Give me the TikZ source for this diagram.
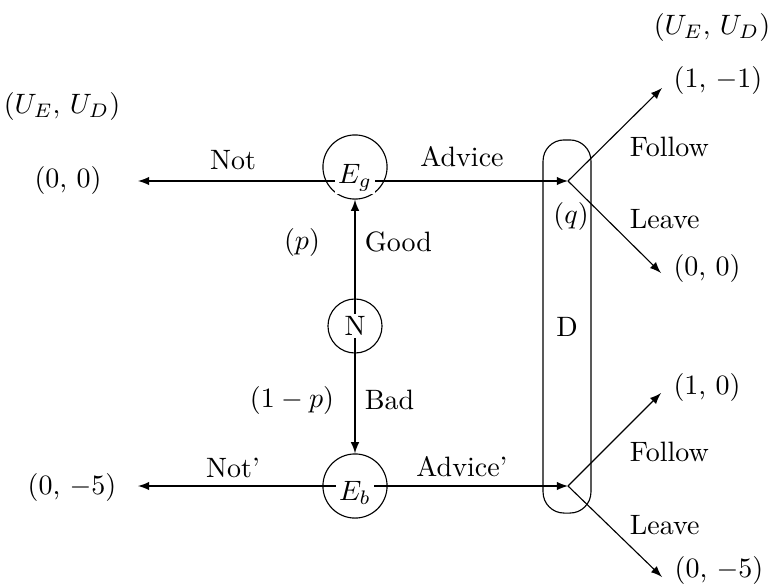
\documentclass[tikz,border=0pt]{standalone}
\usepackage{amsmath}
\usepackage{tikz}
\usetikzlibrary{arrows}

\begin{document}
\begin{tikzpicture}[x=0.357pt,y=-0.357pt,
    chance/.style={circle,draw,minimum size=19.3pt,inner sep=0pt},
    player/.style={circle,draw,minimum size=22.9pt,inner sep=0pt},
    tag/.style={fill=white,inner sep=1pt},
    move/.style={-latex}]
  \useasboundingbox (0,0) rectangle (774,583);
  % decision nodes
  \node[chance] (N) at (355,326) {};
  \node[player] (Eg) at (355,167) {};
  \node[player] (Eb) at (355,486) {};
  \node[draw,rounded corners=7.5pt,minimum width=17.1pt,minimum height=133.2pt] (D) at (567,326.5) {D};
  \coordinate (eg) at (355,181);
  \coordinate (eb) at (355,486);
  \coordinate (dg) at (568,181);
  \coordinate (db) at (568,486);
  \coordinate (notg) at (138,181);
  \coordinate (notb) at (138,486);
  \coordinate (fg) at (662,88);
  \coordinate (lg) at (661,273);
  \coordinate (fb) at (661,393);
  \coordinate (lb) at (662,577);
  % moves
  \draw[move] (N.center) -- (Eg.south);
  \draw[move] (N.center) -- (Eb.north);
  \draw[move] (eg) -- (notg);
  \draw[move] (eg) -- (dg);
  \draw[move] (eb) -- (notb);
  \draw[move] (eb) -- (db);
  \draw[move] (dg) -- (fg);
  \draw[move] (dg) -- (lg);
  \draw[move] (db) -- (fb);
  \draw[move] (db) -- (lb);
  % node labels
  \node[tag] (nlab) at (N) {N};
  \node[tag,anchor=base] (eglab) at (355,183) {$E_g$};
  \node[tag,anchor=base] (eblab) at (355,500) {$E_b$};
  % payoffs
  \node (uleft) at (62,106) {$(U_E,\,U_D)$};
  \node (uright) at (712,27) {$(U_E,\,U_D)$};
  \node (pnotg) at (68,180) {(0, 0)};
  \node (pnotb) at (72,487) {(0, $-5$)};
  \node (pfg) at (718,80) {(1, $-1$)};
  \node (plg) at (707,268) {(0, 0)};
  \node (pfb) at (707,387) {(1, 0)};
  \node (plb) at (719,570) {(0, $-5$)};
  % move labels
  \node (lnotg) at (233,160) {Not};
  \node (lnotb) at (233,468) {Not'};
  \node (ladvg) at (462,157) {Advice};
  \node (ladvb) at (462,467) {Advice'};
  \node[anchor=west] (lfg) at (620,147) {Follow};
  \node[anchor=west] (llg) at (620,219) {Leave};
  \node[anchor=west] (lfb) at (620,452) {Follow};
  \node[anchor=west] (llb) at (620,525) {Leave};
  \node[anchor=west] (lgood) at (355,242) {Good};
  \node[anchor=west] (lbad) at (355,400) {Bad};
  \node (pp) at (302,242) {$(p)$};
  \node (pq) at (292,400) {$(1-p)$};
  \node (q) at (571,216) {$(q)$};
\end{tikzpicture}
\end{document}
